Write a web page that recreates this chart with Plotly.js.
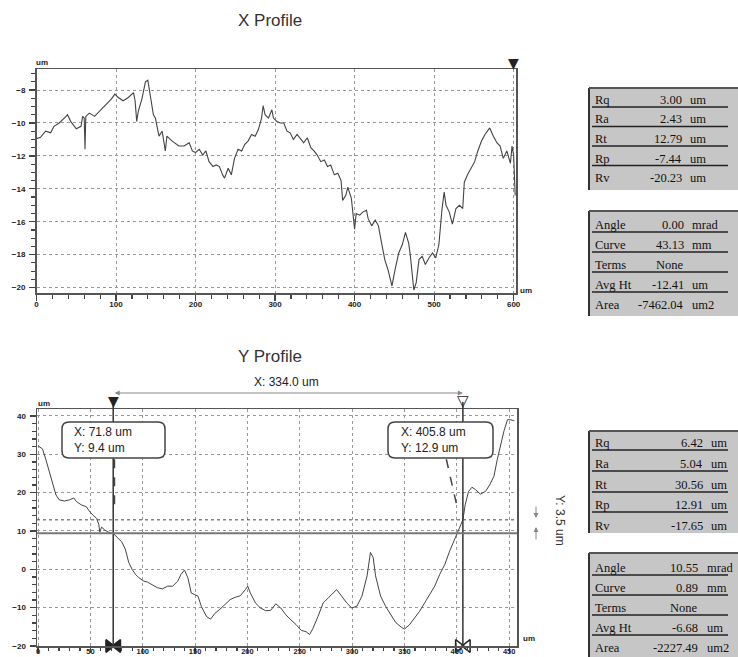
<!DOCTYPE html>
<html><head><meta charset="utf-8">
<script src="https://cdn.plot.ly/plotly-3.0.1.min.js"></script>
<style>html,body{margin:0;padding:0;background:#fff}#chart{width:738px;height:657px}</style>
</head><body><div id="chart"></div>
<script>
// ---- X profile (um) ----
const xProfX = [0,5,11.5,17.8,22,28.5,35,39,43,50,
  56,58,60,61,62,66.5,73,77,81.5,88,
  94,98.5,102.8,109,115.5,122,124,126,128,132.5,
  137,140,143,147,149.5,154,158,162,164,170.7,
  179,185.5,192,196,200,204.7,209,213,217,222,
  226,230,234,236.5,241,245,249,253.5,258,262,
  266,270.5,275,279,283,285,287.5,291.7,296,298,
  302,306.6,311,315,319,323,327.7,332,336,340.5,
  345,349,353,357.5,362,366,370,374.5,379,383,
  385,389,391.5,396,400,402,406.5,410.7,415,417,
  421.5,426,430,434,438,442.5,447,451,455.5,460,
  464,468,470,474.5,477.5,481,485,489,493.5,498,
  502,506,508,510,512.7,515,519,523,527.5,532,
  536,538,542,547,551,555,559.6,564,570,574.5,
  579,583,587,591.5,596,598,600,602];
const xProfY = [-10.95,-10.87,-10.5,-10.6,-10.2,-10,-9.7,-9.5,-9.9,-10.35,
  -10.2,-9.6,-9.7,-11.6,-9.6,-9.4,-9.6,-9.4,-9.2,-8.9,
  -8.55,-8.25,-8.45,-8.65,-8.45,-8.15,-8.65,-9.9,-9.3,-8.55,
  -7.5,-7.4,-8.25,-9.5,-9.7,-10.8,-10.5,-11.7,-10.8,-11.1,
  -11.4,-11.4,-11.2,-11.7,-11.8,-11.6,-11.95,-11.7,-12.35,-12.65,
  -12.55,-12.65,-13.15,-13.35,-12.75,-13.15,-12.15,-11.6,-11.7,-11.3,
  -11.1,-10.7,-10.8,-10.4,-9.7,-8.95,-9.5,-9.7,-9.2,-9.7,
  -9.9,-10,-10,-10.5,-10.6,-11,-10.7,-11,-11.2,-10.9,
  -11.5,-11.7,-11.95,-12.35,-12.25,-12.65,-12.55,-13.15,-13.05,-13.5,
  -14.7,-14.4,-13.9,-14.6,-16.45,-15.5,-15.6,-15.4,-15.3,-15.8,
  -16.25,-15.9,-16.25,-17.3,-18.3,-19,-19.9,-18.9,-17.9,-17.4,
  -16.65,-17.3,-18,-20.15,-19.7,-18.3,-18.1,-18.6,-18.2,-17.9,
  -18.2,-17.4,-16.25,-15.2,-14.2,-15,-15.4,-16.15,-15.2,-15,
  -15.2,-13.6,-13.15,-12.75,-12.35,-11.7,-11.1,-10.7,-10.3,-10.8,
  -11.2,-11.4,-12.15,-11.7,-12.45,-11.4,-11.95,-14.4];
const xCursor = [600];

// ---- Y profile (um) ----
const yProfX = [0,4.2,7.4,10.7,13.9,17.1,20.3,25.2,30,34.2,
  36.5,41.3,46.2,49.4,52.6,55.9,58,59,60.7,63.9,
  67.1,71.8,75.3,80.1,83.3,86.6,89.8,93,96.3,101.1,
  104.3,109.2,114,118.9,123.7,128.6,133.4,136.6,139.9,143.1,
  146.4,149.6,152.8,156,160.9,164.7,168.9,173.8,178.6,183.5,
  188.3,193.2,198,200.3,202.8,207.7,212.5,217.4,222.2,227.1,
  231.9,236.8,241.6,246.4,251.3,256.1,259.4,262.6,267.4,272.3,
  277.1,282,285.2,290,294.9,299.7,304.6,309.4,314.3,317.5,
  320.1,322.4,327.2,332.1,336.9,341.7,346.6,349.8,354.7,359.5,
  364.3,369.2,374,378.9,383.7,388.6,393.4,398.3,403.1,405.8,
  408,411.2,414.5,417.7,422.5,427.4,431.6,435.5,438.7,442,
  445.2,448.4,451.6,454.9];
const yProfY = [32.2,31.4,28.7,25.6,22.5,19.4,18.1,17.8,18.1,18.6,
  17.7,16.8,16.3,15,14.1,13.3,11.7,9.7,11,10.2,
  9.7,9.4,8.4,7.1,5.3,1.8,0,-1.3,-2.2,-3.1,
  -3.3,-4,-4.8,-5.1,-4.4,-4.4,-3.1,-1.3,-0.2,-2.2,
  -6.2,-6.6,-7,-9.7,-12.3,-13,-11.5,-10.4,-9.2,-7.9,
  -7.3,-6.9,-5.3,-4.4,-6.2,-8.8,-10.1,-10.8,-10.7,-9,
  -10.1,-11.9,-13.2,-14.4,-15.9,-16.3,-17,-15.4,-12.3,-8.8,
  -7.5,-6.2,-5.3,-7,-8.8,-10.1,-9.6,-7,-1.7,4.4,
  3.1,-1.7,-7,-9.7,-11.9,-13.9,-15,-15.6,-14.5,-12.8,
  -11,-8.8,-6.6,-4.4,-1.3,1.3,4.9,8,11.5,12.9,
  16.8,20.3,21.4,20.8,19.6,20.3,22.1,24.3,28.7,32.7,
  36.2,39,39,38.7];
const fitAX = [73,73], fitAY = [28.7,16];
const fitBX = [390,400.5], fitBY = [28.7,16];
const cursorX = [71.8, 405.8];
const cursorY = [9.4, 12.9];

// ---- statistics tables ----
const rLabels = ['Rq','Ra','Rt','Rp','Rv'];
const fLabels = ['Angle','Curve','Terms','Avg Ht','Area'];
const xRVals = ['3.00','2.43','12.79','-7.44','-20.23'];
const xFVals = ['0.00','43.13','None','-12.41','-7462.04'];
const yRVals = ['6.42','5.04','30.56','12.91','-17.65'];
const yFVals = ['10.55','0.89','None','-6.68','-2227.49'];
const rUnits = ['um','um','um','um','um'];
const fUnits = ['mrad','mm','','um','um2'];

const W = 738, H = 657;
const px = x => x / W, py = y => 1 - y / H;

const traces = [
  {x:xProfX, y:xProfY, xaxis:'x', yaxis:'y', type:'scatter', mode:'lines', line:{color:'#444', width:1.1}, hoverinfo:'skip'},
  {x:yProfX, y:yProfY, xaxis:'x2', yaxis:'y2', type:'scatter', mode:'lines', line:{color:'#444', width:1}, hoverinfo:'skip'},
  {x:fitAX, y:fitAY, xaxis:'x2', yaxis:'y2', mode:'lines', line:{color:'#444', width:1.5, dash:'dash'}, hoverinfo:'skip'},
  {x:fitBX, y:fitBY, xaxis:'x2', yaxis:'y2', mode:'lines', line:{color:'#444', width:1.5, dash:'dash'}, hoverinfo:'skip'},
  {x:[cursorX[0]-4.3, cursorX[0]+4.3, cursorX[1]-4.3, cursorX[1]+4.3], y:[-20,-20,-20,-20], xaxis:'x2', yaxis:'y2',
   mode:'markers', cliponaxis:false,
   marker:{symbol:['triangle-right','triangle-left','triangle-right-open','triangle-left-open'], size:11, color:'#222', line:{color:'#222', width:1.5}}, hoverinfo:'skip'}
];

const tf = {family:'Arial, Liberation Sans', size:8, color:'#222', weight:'bold'};
const axBase = {showline:true, mirror:true, linecolor:'#555', linewidth:1.5, ticks:'outside', ticklen:6,
  tickcolor:'#444', tickwidth:1.2, showgrid:true, gridcolor:'#999', griddash:'dot', gridwidth:1,
  zeroline:false, tickfont:tf, fixedrange:true};
const minor = d => ({dtick:d, ticklen:4, ticks:'outside', tickcolor:'#444', showgrid:false});

const shapes = [];
const annotations = [];
const ann = (o) => annotations.push(Object.assign({xref:'paper', yref:'paper', showarrow:false,
  xanchor:'center', yanchor:'middle',
  font:{family:'Arial, Liberation Sans', size:12, color:'#222'}}, o));

// titles & unit labels
ann({x:px(270), y:py(20), text:'X Profile', font:{family:'Arial, Liberation Sans', size:17, color:'#333'}});
ann({x:px(270), y:py(356), text:'Y Profile', font:{family:'Arial, Liberation Sans', size:17, color:'#333'}});
ann({x:px(42), y:py(62), text:'um', font:tf});
ann({x:px(44), y:py(403), text:'um', font:tf});
ann({x:px(518), y:py(291), xanchor:'left', text:'um', font:tf});
ann({x:px(521), y:py(638), xanchor:'left', text:'um', font:tf});

// cursor position triangles
const triFont = {family:'DejaVu Sans', size:14, color:'#222'};
ann({xref:'x', x:xCursor[0], y:py(63), text:'▼', font:triFont});
ann({xref:'x2', x:cursorX[0], y:py(401), text:'▼', font:triFont});
ann({xref:'x2', x:cursorX[1], y:py(401), text:'▽', font:{family:'DejaVu Sans', size:15, color:'#222', weight:'bold'}});

// cursor lines
cursorX.forEach(c => shapes.push({type:'line', xref:'x2', yref:'paper', x0:c, x1:c, y0:py(646), y1:py(402),
  line:{color:'#333', width:1.5}}));
shapes.push({type:'line', xref:'x2 domain', yref:'y2', x0:0, x1:1, y0:cursorY[0], y1:cursorY[0], line:{color:'#777', width:2}});
shapes.push({type:'line', xref:'x2 domain', yref:'y2', x0:0, x1:1, y0:cursorY[1], y1:cursorY[1], line:{color:'#444', width:1, dash:'dot'}});

// rounded readout boxes
function roundBox(x0, y0, x1, y1, r) {
  const X = v => px(v).toFixed(5), Y = v => py(v).toFixed(5);
  const p = `M${X(x0+r)},${Y(y0)} L${X(x1-r)},${Y(y0)} Q${X(x1)},${Y(y0)} ${X(x1)},${Y(y0+r)} ` +
    `L${X(x1)},${Y(y1-r)} Q${X(x1)},${Y(y1)} ${X(x1-r)},${Y(y1)} L${X(x0+r)},${Y(y1)} ` +
    `Q${X(x0)},${Y(y1)} ${X(x0)},${Y(y1-r)} L${X(x0)},${Y(y0+r)} Q${X(x0)},${Y(y0)} ${X(x0+r)},${Y(y0)} Z`;
  shapes.push({type:'path', xref:'paper', yref:'paper', path:p, fillcolor:'#fff', line:{color:'#444', width:1.5}});
}
roundBox(62, 422, 165, 458, 7);
roundBox(388, 422, 493, 458, 7);
ann({x:px(72), y:py(440), xanchor:'left', align:'left',
  text:`X: ${cursorX[0].toFixed(1)} um<br>Y: ${cursorY[0].toFixed(1)} um`});
ann({x:px(399), y:py(440), xanchor:'left', align:'left',
  text:`X: ${cursorX[1].toFixed(1)} um<br>Y: ${cursorY[1].toFixed(1)} um`});

// distance arrow
annotations.push({xref:'x2', yref:'paper', x:cursorX[1], y:py(393), axref:'x2', ayref:'pixel', ax:cursorX[0], ay:0,
  text:'', showarrow:true, arrowside:'end+start', arrowhead:2, arrowsize:1, arrowwidth:1, arrowcolor:'#888', standoff:0, startstandoff:0});
ann({x:px(286), y:py(382), text:`X: ${(cursorX[1]-cursorX[0]).toFixed(1)} um`});

// vertical delta
ann({x:px(560), y:py(520), textangle:90, text:`Y: ${(cursorY[1]-cursorY[0]).toFixed(1)} um`, font:{family:'Arial, Liberation Sans', size:12, color:'#333'}});
annotations.push({xref:'paper', yref:'paper', x:px(536), y:py(518), ax:0, ay:-13, text:'', showarrow:true,
  arrowhead:2, arrowsize:1, arrowwidth:1, arrowcolor:'#888'});
annotations.push({xref:'paper', yref:'paper', x:px(536), y:py(527), ax:0, ay:14, text:'', showarrow:true,
  arrowhead:2, arrowsize:1, arrowwidth:1, arrowcolor:'#888'});

// tables
function table(yTop, yBot, rows, labels, vals, units, valRight, unitLeft) {
  shapes.push({type:'rect', xref:'paper', yref:'paper', x0:px(589), x1:px(738), y0:py(yBot), y1:py(yTop),
    fillcolor:'#c6c6c6', line:{width:0}, layer:'below'});
  shapes.push({type:'line', xref:'paper', yref:'paper', x0:px(589), x1:px(589), y0:py(yBot), y1:py(yTop), line:{color:'#333', width:2}});
  shapes.push({type:'line', xref:'paper', yref:'paper', x0:px(589), x1:px(738), y0:py(yTop), y1:py(yTop), line:{color:'#555', width:2}});
  const f = {family:'Liberation Serif, Times New Roman, serif', size:12.5, color:'#111'};
  rows.forEach((ry, i) => {
    ann({x:px(593), y:py(ry), xanchor:'left', text:labels[i], font:f});
    ann({x:px(valRight), y:py(ry), xanchor:'right', text:vals[i], font:f});
    if (units[i]) ann({x:px(unitLeft), y:py(ry), xanchor:'left', text:units[i], font:f});
    if (i < rows.length - 1) shapes.push({type:'line', xref:'paper', yref:'paper', x0:px(592), x1:px(728),
      y0:py(ry+7), y1:py(ry+7), line:{color:'#222', width:1.3}});
  });
}
table(88, 190, [100,119.5,139,158.5,178], rLabels, xRVals, rUnits, 684, 688);
table(211, 316, [225,245,265,285,305], fLabels, xFVals, fUnits, 686, 690);
table(431, 533, [443,464,485,505,526], rLabels, yRVals, rUnits, 705, 709);
table(553, 657, [568,588,608,628,648], fLabels, yFVals, fUnits, 700, 705);

const layout = {
  width:W, height:H, margin:{l:0, r:0, t:0, b:0}, paper_bgcolor:'#fff', plot_bgcolor:'#fff', showlegend:false,
  xaxis:Object.assign({}, axBase, {domain:[px(36.5), px(516)], range:[0,603], dtick:100, tick0:0, minor:minor(20), anchor:'y', ticklabelstandoff:-3}),
  yaxis:Object.assign({}, axBase, {domain:[py(293), py(69)], range:[-20.33,-6.72], dtick:2, tick0:0, minor:minor(0.5), anchor:'x', ticklabelstandoff:2}),
  xaxis2:Object.assign({}, axBase, {domain:[px(37), px(517)], range:[-1,457.5], dtick:50, tick0:0, ticklen:5,
    minor:Object.assign(minor(10), {ticklen:3}), anchor:'y2', ticklabelstandoff:-8, tickfont:Object.assign({}, tf, {size:7.5})}),
  yaxis2:Object.assign({}, axBase, {domain:[py(646), py(409)], range:[-20,41.8], dtick:10, tick0:0, minor:minor(2), anchor:'x2', ticklabelstandoff:2}),
  shapes:shapes, annotations:annotations
};
Plotly.newPlot('chart', traces, layout, {displayModeBar:false, staticPlot:true});
</script></body></html>
